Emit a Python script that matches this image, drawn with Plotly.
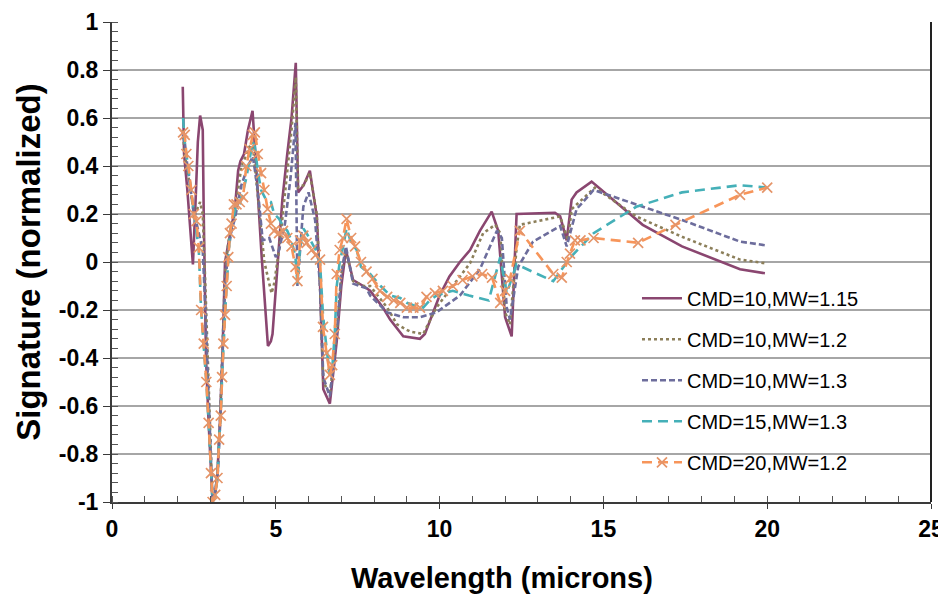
import plotly.graph_objects as go

# ---------------- data ----------------
x_cmd10_mw115 = [2.16, 2.2, 2.3, 2.4, 2.47, 2.55, 2.62, 2.69, 2.77, 2.8, 2.87, 2.95, 3.07, 3.15, 3.22, 3.3, 3.38, 3.45,
                 3.55, 3.65, 3.75, 3.85, 3.92, 4.03, 4.15, 4.29, 4.4, 4.57, 4.76, 4.85, 4.9, 5.05, 5.2, 5.35, 5.48,
                 5.61, 5.68, 5.85, 6.04, 6.25, 6.35, 6.45, 6.65, 6.86, 7.0, 7.14, 7.36, 7.67, 7.88, 8.27, 8.49, 8.89,
                 9.4, 9.55, 10.0, 10.3, 10.62, 10.93, 11.23, 11.59, 11.79, 12.0, 12.2, 12.35, 13.52, 13.68, 13.88,
                 14.03, 14.18, 14.64, 15.8, 16.2, 17.4, 19.17, 19.93]
y_cmd10_mw115 = [0.73, 0.45, 0.3, 0.1, -0.01, 0.25, 0.5, 0.61, 0.55, 0.2, -0.4, -0.67, -1.0, -0.96, -0.88, -0.65, -0.35,
                 0.0, 0.08, 0.15, 0.22, 0.38, 0.42, 0.45, 0.55, 0.63, 0.4, 0.02, -0.35, -0.33, -0.3, 0.0, 0.26, 0.45,
                 0.6, 0.83, 0.29, 0.32, 0.38, 0.19, -0.09, -0.53, -0.59, -0.33, -0.1, 0.05, -0.075, -0.1, -0.12,
                 -0.19, -0.24, -0.31, -0.32, -0.3, -0.14, -0.06, 0.0, 0.05, 0.13, 0.21, 0.13, -0.23, -0.31, 0.2,
                 0.205, 0.19, 0.09, 0.26, 0.29, 0.335, 0.2, 0.155, 0.065, -0.03, -0.047]

x_cmd10_mw12 = [2.16, 2.22, 2.3, 2.4, 2.5, 2.6, 2.69, 2.77, 2.85, 2.95, 3.07, 3.15, 3.22, 3.3, 3.38, 3.45, 3.55, 3.65,
                3.75, 3.85, 3.95, 4.05, 4.15, 4.29, 4.4, 4.5, 4.65, 4.87, 4.95, 5.1, 5.3, 5.48, 5.61, 5.68, 5.85,
                6.04, 6.25, 6.35, 6.45, 6.65, 6.86, 7.0, 7.14, 7.36, 7.67, 7.88, 8.4, 8.7, 9.1, 9.5, 9.9, 10.4,
                10.93, 11.33, 11.7, 11.85, 12.0, 12.15, 12.35, 12.45, 13.68, 13.92, 14.03, 14.74, 16.0, 17.4, 19.17,
                19.93]
y_cmd10_mw12 = [0.55, 0.45, 0.38, 0.3, 0.2, 0.22, 0.25, 0.2, -0.1, -0.55, -1.0, -0.96, -0.88, -0.65, -0.35, -0.05,
                0.08, 0.15, 0.2, 0.3, 0.4, 0.43, 0.47, 0.5, 0.35, 0.2, 0.0, -0.13, -0.09, 0.05, 0.3, 0.55, 0.77,
                0.31, 0.32, 0.37, 0.2, -0.1, -0.5, -0.55, -0.3, -0.05, 0.05, -0.08, -0.1, -0.1, -0.19, -0.26,
                -0.29, -0.30, -0.19, -0.1, -0.005, 0.12, 0.155, 0.12, -0.21, -0.26, 0.06, 0.155, 0.19, 0.09, 0.22,
                0.31, 0.19, 0.105, 0.01, -0.005]

x_cmd10_mw13 = [2.16, 2.22, 2.3, 2.4, 2.5, 2.6, 2.69, 2.77, 2.85, 2.95, 3.07, 3.15, 3.22, 3.3, 3.38, 3.45, 3.55, 3.65,
                3.75, 3.85, 3.95, 4.05, 4.15, 4.3, 4.45, 4.6, 4.8, 5.0, 5.1, 5.28, 5.45, 5.6, 5.66, 5.84, 6.0, 6.2,
                6.35, 6.45, 6.65, 6.86, 7.0, 7.14, 7.36, 7.77, 7.88, 8.4, 8.9, 9.4, 9.9, 10.62, 11.23, 11.75, 11.9,
                12.05, 12.15, 12.4, 12.85, 13.68, 13.88, 14.18, 14.7, 16.0, 17.4, 19.17, 19.93]
y_cmd10_mw13 = [0.53, 0.5, 0.4, 0.3, 0.2, 0.15, 0.1, 0.05, -0.2, -0.55, -1.0, -0.96, -0.9, -0.68, -0.38, -0.1, 0.05,
                0.13, 0.18, 0.25, 0.32, 0.36, 0.4, 0.44, 0.3, 0.09, 0.1, 0.02, 0.05, 0.16, 0.35, 0.58, -0.1, 0.23,
                0.29, 0.175, -0.1, -0.48, -0.56, -0.3, -0.05, 0.065, -0.09, -0.11, -0.14, -0.21, -0.23, -0.23,
                -0.21, -0.14, -0.03, 0.13, 0.1, -0.19, -0.24, -0.02, 0.085, 0.15, 0.065, 0.22, 0.3, 0.24, 0.175,
                0.085, 0.07]

x_cmd15_mw13 = [2.17, 2.22, 2.3, 2.4, 2.5, 2.58, 2.65, 2.72, 2.8, 2.88, 2.95, 3.02, 3.07, 3.15, 3.22, 3.27, 3.32,
                3.36, 3.4, 3.45, 3.5, 3.55, 3.6, 3.65, 3.72, 3.8, 3.9, 4.0, 4.1, 4.2, 4.3, 4.36, 4.45, 4.55, 4.7,
                4.85, 4.95, 5.1, 5.22, 5.35, 5.48, 5.6, 5.66, 5.74, 5.84, 5.94, 6.1, 6.22, 6.35, 6.44, 6.55, 6.65,
                6.72, 6.8, 6.86, 6.95, 7.05, 7.16, 7.3, 7.47, 7.6, 7.88, 8.2, 8.5, 8.8, 9.0, 9.2, 9.5, 9.7, 9.9,
                10.4, 10.9, 11.5, 11.85, 12.05, 12.35, 13.47, 14.0, 14.7, 16.0, 17.4, 19.17, 20.0]
y_cmd15_mw13 = [0.6, 0.5, 0.42, 0.32, 0.2, 0.12, 0.05, -0.2, -0.34, -0.5, -0.67, -0.88, -1.0, -0.97, -0.9, -0.74,
                -0.64, -0.48, -0.34, -0.22, -0.1, 0.02, 0.12, 0.16, 0.2, 0.24, 0.24, 0.3, 0.35, 0.43, 0.5, 0.48,
                0.38, 0.3, 0.26, 0.25, 0.2, 0.18, 0.15, 0.13, 0.09, 0.02, -0.09, 0.06, 0.14, 0.12, 0.08, 0.05, 0.0,
                -0.22, -0.36, -0.47, -0.45, -0.3, -0.1, 0.0, 0.06, 0.14, 0.08, 0.05, -0.02, -0.05, -0.1, -0.14,
                -0.15, -0.17, -0.18, -0.19, -0.16, -0.14, -0.12, -0.14, -0.16, 0.02, -0.13, -0.01, -0.08, 0.02,
                0.12, 0.23, 0.29, 0.32, 0.31]

x_cmd20_mw12 = [2.17, 2.22, 2.27, 2.33, 2.42, 2.5, 2.58, 2.65, 2.72, 2.8, 2.88, 2.95, 3.02, 3.07, 3.15, 3.22, 3.27,
                3.32, 3.36, 3.4, 3.45, 3.5, 3.55, 3.6, 3.65, 3.72, 3.8, 3.9, 4.0, 4.1, 4.2, 4.3, 4.36, 4.45, 4.55,
                4.65, 4.75, 4.85, 4.95, 5.1, 5.22, 5.35, 5.48, 5.6, 5.66, 5.74, 5.84, 5.94, 6.1, 6.22, 6.35, 6.44,
                6.55, 6.65, 6.72, 6.8, 6.86, 6.95, 7.05, 7.16, 7.3, 7.42, 7.6, 7.77, 7.95, 8.18, 8.4, 8.6, 8.8, 9.0,
                9.2, 9.4, 9.6, 9.86, 10.1, 10.4, 10.7, 11.0, 11.3, 11.6, 11.85, 12.0, 12.15, 12.45, 13.47, 13.73,
                13.88, 13.98, 14.13, 14.3, 14.7, 16.06, 17.2, 19.17, 20.0]
y_cmd20_mw12 = [0.54, 0.53, 0.45, 0.4, 0.3, 0.2, 0.17, 0.06, -0.2, -0.34, -0.5, -0.67, -0.88, -1.0, -0.97, -0.9,
                -0.74, -0.64, -0.48, -0.34, -0.22, -0.1, 0.02, 0.12, 0.16, 0.24, 0.24, 0.25, 0.27, 0.4, 0.47, 0.53,
                0.54, 0.45, 0.37, 0.3, 0.22, 0.16, 0.13, 0.12, 0.13, 0.1, 0.065, -0.02, -0.08, 0.09, 0.11, 0.08,
                0.05, 0.03, 0.01, -0.27, -0.38, -0.47, -0.43, -0.3, -0.05, 0.05, 0.1, 0.18, 0.1, 0.065, 0.0, -0.04,
                -0.07, -0.12, -0.145, -0.16, -0.17, -0.19, -0.19, -0.19, -0.145, -0.13, -0.12, -0.1, -0.075, -0.06,
                -0.05, -0.065, -0.17, -0.12, -0.07, 0.13, -0.05, -0.065, 0.0, 0.035, 0.09, 0.09, 0.1, 0.08, 0.155,
                0.28, 0.31]

series_names = ["CMD=10,MW=1.15", "CMD=10,MW=1.2", "CMD=10,MW=1.3", "CMD=15,MW=1.3", "CMD=20,MW=1.2"]

y_tick_vals = [1, 0.8, 0.6, 0.4, 0.2, 0, -0.2, -0.4, -0.6, -0.8, -1]
y_tick_text = ["1", "0.8", "0.6", "0.4", "0.2", "0", "-0.2", "-0.4", "-0.6", "-0.8", "-1"]
x_tick_vals = [0, 5, 10, 15, 20, 25]
x_tick_text = ["0", "5", "10", "15", "20", "25"]

x_title = "Wavelength (microns)"
y_title = "Signature (normalized)"

# ---------------- figure ----------------
FONT = "Liberation Sans, Arial, sans-serif"
fig = go.Figure()

styles = [
    dict(color="#8A4670", width=2.6, dash="solid"),
    dict(color="#8C7F5A", width=2.6, dash="dot"),
    dict(color="#6D6D9C", width=2.6, dash="6px,3px"),
    dict(color="#45B0B8", width=2.6, dash="10px,6px"),
    dict(color="#F7955A", width=2.6, dash="10px,6px"),
]
xs = [x_cmd10_mw115, x_cmd10_mw12, x_cmd10_mw13, x_cmd15_mw13, x_cmd20_mw12]
ys = [y_cmd10_mw115, y_cmd10_mw12, y_cmd10_mw13, y_cmd15_mw13, y_cmd20_mw12]

for i, (xx, yy, nm, st) in enumerate(zip(xs, ys, series_names, styles)):
    if i == 4:
        kw = dict(mode="lines+markers",
                  marker=dict(symbol="x-thin", size=10, line=dict(color="#E59468", width=1.7)))
    else:
        kw = dict(mode="lines")
    fig.add_trace(go.Scatter(x=xx, y=yy, name=nm, line=st, legendgroup=f"g{i}", **kw))

fig.update_layout(
    width=946, height=605,
    margin=dict(l=104, r=23, t=14, b=111),
    paper_bgcolor="white", plot_bgcolor="white",
    font=dict(family=FONT, color="black"),
    showlegend=True,
    legend=dict(x=0.641, y=0.465, xanchor="left", yanchor="top",
                bgcolor="rgba(0,0,0,0)", font=dict(size=20, family=FONT, color="black"),
                tracegroupgap=12, itemwidth=40),
    xaxis=dict(range=[0, 25], tickvals=x_tick_vals, ticktext=x_tick_text,
               showgrid=False, zeroline=False, automargin=False,
               showline=True, linecolor="#3a3a3a", linewidth=2,
               ticks="outside", ticklen=5, tickcolor="#3a3a3a", tickwidth=1,
               tickfont=dict(size=23, family=FONT, weight="bold"),
               minor=dict(dtick=1, ticks="inside", ticklen=6, tickcolor="#555555", tickwidth=1, showgrid=False)),
    yaxis=dict(range=[-1, 1], tickvals=y_tick_vals, ticktext=y_tick_text,
               showgrid=True, gridcolor="#A6A6A6", gridwidth=2, zeroline=False, automargin=False,
               showline=True, linecolor="#3a3a3a", linewidth=2,
               ticks="outside", ticklen=7, tickcolor="#3a3a3a", tickwidth=1,
               tickfont=dict(size=23, family=FONT, weight="bold"),
               minor=dict(dtick=0.04, ticks="inside", ticklen=6, tickcolor="#555555", tickwidth=1, showgrid=False),
               title=dict(text=y_title, font=dict(size=33, family=FONT, weight="bold"), standoff=8)),
    annotations=[dict(text=x_title, xref="paper", yref="paper", x=0.476, y=-0.158,
                      xanchor="center", yanchor="middle", showarrow=False,
                      font=dict(size=29, family=FONT, weight="bold", color="black"))],
    shapes=[dict(type="line", xref="paper", yref="paper", x0=1, x1=1, y0=0, y1=1,
                 line=dict(color="#222222", width=2))],
)

fig.write_html("out.html")
